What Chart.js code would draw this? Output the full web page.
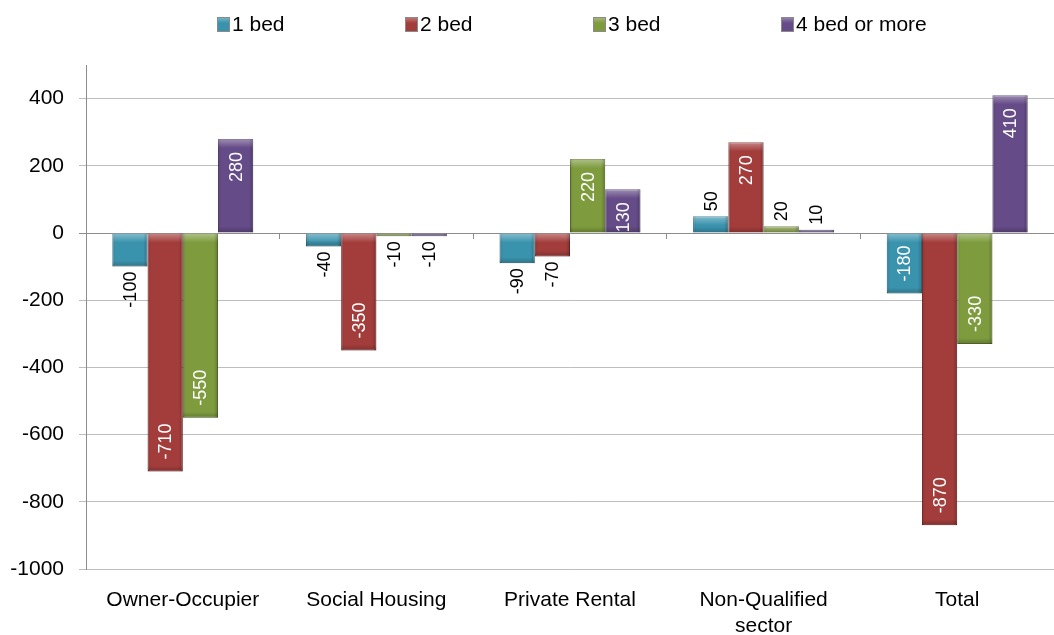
<!DOCTYPE html>
<html>
<head>
<meta charset="utf-8">
<script src="https://cdn.jsdelivr.net/npm/chart.js@4.4.1/dist/chart.umd.min.js"></script>
<style>
  html, body { margin: 0; padding: 0; background: #fff; }
  #chart { display: block; }
</style>
</head>
<body>
<canvas id="chart" width="1054" height="635"></canvas>
<script>
// --- data ---
const categories = ['Owner-Occupier', 'Social Housing', 'Private Rental', ['Non-Qualified', 'sector'], 'Total'];
const seriesNames = ['1 bed', '2 bed', '3 bed', '4 bed or more'];
const bed1 = [-100, -40, -90, 50, -180];
const bed2 = [-710, -350, -70, 270, -870];
const bed3 = [-550, -10, 220, 20, -330];
const bed4 = [280, -10, 130, 10, 410];
const yTicks = [-1000, -800, -600, -400, -200, 0, 200, 400];

const fills = ['#3a93ad', '#a33d3b', '#7e9c3e', '#654b87'];
const edges = ['#2a6f84', '#7c2b2a', '#5e762c', '#4a3664'];
const FONT = '"Liberation Sans", Arial, sans-serif';

// bevel-ish shading on top of each bar (Excel 2007 look)
const bevel = {
  id: 'bevel',
  afterDatasetsDraw(chart) {
    const ctx = chart.ctx;
    chart.data.datasets.forEach((ds, i) => {
      chart.getDatasetMeta(i).data.forEach(bar => {
        const w = bar.width;
        const left = bar.x - w / 2;
        const top = Math.min(bar.y, bar.base);
        const h = Math.abs(bar.base - bar.y);
        if (h < 1) return;
        ctx.save();
        ctx.beginPath();
        ctx.rect(left, top, w, h);
        ctx.clip();
        let g = ctx.createLinearGradient(0, top, 0, top + 9);
        g.addColorStop(0, 'rgba(255,255,255,0.38)');
        g.addColorStop(1, 'rgba(255,255,255,0)');
        ctx.fillStyle = g;
        ctx.fillRect(left, top, w, 9);
        g = ctx.createLinearGradient(0, top + h, 0, top + h - 6);
        g.addColorStop(0, 'rgba(0,0,0,0.22)');
        g.addColorStop(1, 'rgba(0,0,0,0)');
        ctx.fillStyle = g;
        ctx.fillRect(left, top + h - 6, w, 6);
        g = ctx.createLinearGradient(left, 0, left + w, 0);
        g.addColorStop(0, 'rgba(0,0,0,0.12)');
        g.addColorStop(0.1, 'rgba(0,0,0,0)');
        g.addColorStop(0.88, 'rgba(0,0,0,0)');
        g.addColorStop(1, 'rgba(0,0,0,0.22)');
        ctx.fillStyle = g;
        ctx.fillRect(left, top, w, h);
        ctx.restore();
      });
    });
  }
};

// rotated value labels: inside end for long bars, outside end for short ones
const barLabels = {
  id: 'barLabels',
  afterDatasetsDraw(chart) {
    const ctx = chart.ctx;
    chart.data.datasets.forEach((ds, i) => {
      chart.getDatasetMeta(i).data.forEach((bar, j) => {
        const v = ds.data[j];
        const inside = Math.abs(v) >= 120;
        const up = v >= 0;
        const top = Math.min(bar.y, bar.base);
        const bottom = Math.max(bar.y, bar.base);
        let y, align;
        if (inside) {
          y = up ? top + 13 : bottom - 12;
          align = up ? 'right' : 'left';
        } else {
          y = up ? top - 5 : bottom + 5;
          align = up ? 'left' : 'right';
        }
        ctx.save();
        ctx.font = '18px ' + FONT;
        ctx.fillStyle = inside ? '#ffffff' : '#000000';
        ctx.textBaseline = 'middle';
        ctx.textAlign = align;
        ctx.translate(bar.x, y);
        ctx.rotate(-Math.PI / 2);
        ctx.fillText(String(v), 0, 1);
        ctx.restore();
      });
    });
  }
};

// legend row at the top, evenly spaced like the original
const topLegend = {
  id: 'topLegend',
  afterDraw(chart) {
    const ctx = chart.ctx;
    const x0 = 217, step = 188, yMid = 24;
    ctx.save();
    ctx.font = '21px ' + FONT;
    ctx.textBaseline = 'middle';
    ctx.textAlign = 'left';
    chart.data.datasets.forEach((ds, i) => {
      const x = x0 + i * step;
      ctx.fillStyle = ds.backgroundColor;
      ctx.fillRect(x, yMid - 7, 13, 15);
      const g = ctx.createLinearGradient(0, yMid - 7, 0, yMid + 8);
      g.addColorStop(0, 'rgba(255,255,255,0.35)');
      g.addColorStop(0.4, 'rgba(255,255,255,0)');
      ctx.fillStyle = g;
      ctx.fillRect(x, yMid - 7, 13, 15);
      ctx.strokeStyle = '#8a8a8a';
      ctx.lineWidth = 1;
      ctx.strokeRect(x + 0.5, yMid - 6.5, 12, 14);
      ctx.fillStyle = '#000';
      ctx.fillText(ds.label, x + 15, yMid + 1);
    });
    ctx.restore();
  }
};

const seriesData = [bed1, bed2, bed3, bed4];

new Chart(document.getElementById('chart'), {
  type: 'bar',
  data: {
    labels: categories,
    datasets: seriesNames.map((name, i) => ({
      label: name,
      data: seriesData[i],
      backgroundColor: fills[i],
      borderColor: edges[i],
      borderWidth: 1,
      categoryPercentage: 0.728,
      barPercentage: 1.0
    }))
  },
  options: {
    responsive: false,
    animation: false,
    layout: { padding: { top: 65, left: 0, right: 0, bottom: 0 } },
    plugins: {
      legend: { display: false },
      tooltip: { enabled: false }
    },
    scales: {
      x: {
        offset: true,
        grid: { display: false },
        border: { display: false },
        ticks: { color: '#000', font: { family: FONT, size: 21 }, padding: 11, maxRotation: 0, autoSkip: false },
        afterFit: s => { s.height = 66; }
      },
      xz: {
        type: 'category',
        position: { y: 0 },
        offset: true,
        grid: { offset: true, drawOnChartArea: false, drawTicks: true, tickLength: 6, color: '#8c8c8c' },
        border: { display: false },
        ticks: { display: false }
      },
      y: {
        min: -1000,
        max: 500,
        afterBuildTicks: s => { s.ticks = yTicks.map(v => ({ value: v })); },
        grid: {
          color: ctx => (ctx.tick && ctx.tick.value === 0) ? '#8c8c8c' : '#bdbdbd',
          tickLength: 7,
          lineWidth: 1
        },
        border: { display: true, color: '#8c8c8c' },
        ticks: { color: '#000', font: { family: FONT, size: 21 }, padding: 15, callback: v => String(v) },
        afterFit: s => { s.width = 86; }
      }
    }
  },
  plugins: [bevel, barLabels, topLegend]
});
</script>
</body>
</html>
